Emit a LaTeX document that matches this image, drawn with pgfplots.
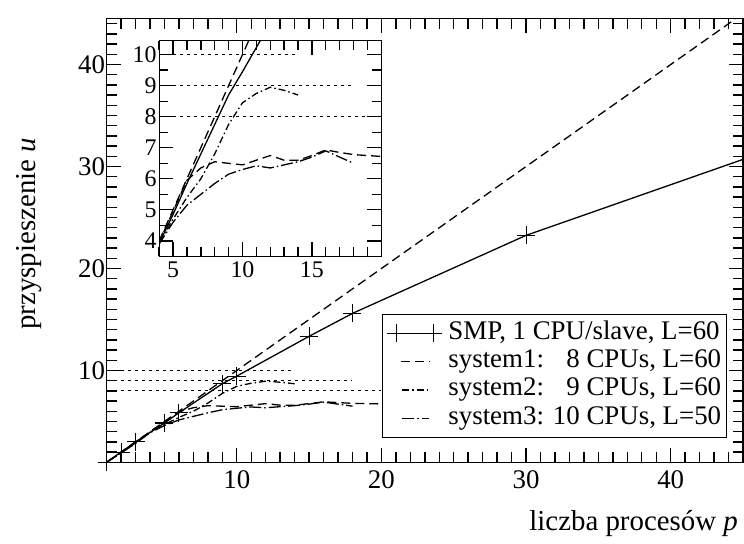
\documentclass[border=0pt]{standalone}
\usepackage{fontspec}
\setmainfont{Liberation Serif}
\usepackage{pgfplots}
\usepackage{pgfplotstable}
\pgfplotsset{compat=1.18}

% speedup measurements
\pgfplotstableread{
p u
1 1
2 2.0
3 3.0
5 4.85
6 5.85
9 8.7
10 9.45
15 13.35
18 15.6
30 23.25
45 30.7
}\smp
\pgfplotstableread{
p u
1 1
44.5 44.5
}\ideal
\pgfplotstableread{
p u
4 4
11.3 11.3
}\idealzoom
\pgfplotstableread{
p u
1 1
2 1.95
3 2.95
4 3.95
5 4.95
6 5.95
7 6.35
8 6.55
9 6.5
10 6.45
11 6.6
12 6.75
13 6.6
14 6.6
15 6.75
16 6.93
17 6.85
18 6.78
19 6.75
20 6.72
}\sysone
\pgfplotstableread{
p u
1 1
2 1.95
3 2.9
4 3.95
5 4.7
6 5.4
7 6.0
8 6.8
9 7.75
10 8.45
11 8.75
12 8.95
13 8.85
14 8.7
}\systwo
\pgfplotstableread{
p u
1 1
2 1.9
3 2.85
4 3.9
5 4.6
6 5.15
7 5.5
8 5.85
9 6.15
10 6.3
11 6.42
12 6.35
13 6.45
14 6.55
15 6.7
16 6.9
17 6.7
18 6.5
}\systhree

\pgfplotsset{
  smpstyle/.style={black, line width=1.3bp, solid},
  s1style/.style={black, line width=1.3bp, dash pattern=on 9bp off 5bp},
  s2style/.style={black, line width=1.3bp, dash pattern=on 7bp off 3bp on 1.5bp off 3bp},
  s3style/.style={black, line width=1.3bp, dash pattern=on 12bp off 3bp on 1.5bp off 3bp},
  limstyle/.style={black, line width=1.2bp, dash pattern=on 3bp off 4bp},
  boxframe/.style={
    scale only axis,
    tick align=inside,
    axis line style={line width=1.3bp},
  },
  shortsample/.style 2 args={legend image code/.code={\path (0bp,0bp) (44bp,0bp);
    \draw[##1] (#1,0bp) -- (#2,0bp);}},
  marksample/.style={legend image code/.code={\path (0bp,0bp) (44bp,0bp);
    \draw[##1] plot coordinates {(3bp,0bp) (40bp,0bp)};}},
}

\begin{document}
\begin{tikzpicture}
\useasboundingbox (-106.7bp,-81.3bp) rectangle (638bp,462.7bp);
\begin{axis}[
  boxframe, clip=false,
  at={(0,0)}, anchor=south west,
  width=637bp, height=444bp,
  xmin=1, xmax=45, ymin=1, ymax=44.5,
  % long labelled ticks every ten, short ticks every unit
  xtick={10,20,30,40}, ytick={10,20,30,40},
  major tick length=14bp,
  major tick style={draw=black, line width=1.2bp},
  extra x ticks={2,3,...,45}, extra y ticks={2,3,...,44},
  extra x tick labels={}, extra y tick labels={},
  extra tick style={major tick length=10bp,
    major tick style={draw=black, line width=1.4bp}},
  tick label style={font=\fontsize{27}{30}\selectfont},
  /pgf/number format/assume math mode=true,
  xticklabel style={yshift=-5bp},
  yticklabel style={xshift=2bp},
  xlabel={liczba procesów \textit{p}},
  ylabel={przyspieszenie \textit{u}},
  label style={font=\fontsize{29}{32}\selectfont},
  xlabel style={at={(axis description cs:0.9973,-0.1538)}, anchor=base east},
  ylabel style={at={(axis description cs:-0.111,0.515)}, anchor=base},
  legend cell align=left,
  legend style={at={(rel axis cs:0.9743,0.055)}, anchor=south east,
    draw=black, line width=1bp, inner xsep=5bp, inner ysep=5bp,
    font=\fontsize{27}{28}\selectfont, row sep=0pt,
    nodes={inner sep=0pt, text height=20bp, text depth=8.3bp},
    /tikz/every odd column/.append style={column sep=6bp}},
]
\addplot[smpstyle, mark=+, mark size=9bp, mark indices={1,...,10},
  mark options={solid, line width=1.1bp}, marksample]
  table[x=p, y=u] {\smp};
\addlegendentry{SMP, 1 CPU/slave, L=60}
\addplot[s1style, forget plot] table[x=p, y=u] {\ideal};
\addplot[s1style, shortsample={8bp}{37bp}] table[x=p, y=u] {\sysone};
\addlegendentry{system1: \phantom{1}8 CPUs, L=60}
\addplot[s2style, shortsample={9bp}{37bp}] table[x=p, y=u] {\systwo};
\addlegendentry{system2: \phantom{1}9 CPUs, L=60}
\addplot[s3style, shortsample={9bp}{36bp}] table[x=p, y=u] {\systhree};
\addlegendentry{system3: 10 CPUs, L=50}
% CPU-count limits
\addplot[limstyle, forget plot] coordinates {(1,10) (14,10)};
\addplot[limstyle, forget plot] coordinates {(1,9) (18,9)};
\addplot[limstyle, forget plot] coordinates {(1,8) (20,8)};
\end{axis}

% close-up of the small-p region
\begin{axis}[
  boxframe,
  at={(52.6bp,206bp)}, anchor=south west,
  width=222.4bp, height=216bp,
  xmin=4, xmax=20, ymin=3.5, ymax=10.45,
  xtick={5,10,15}, ytick={4,5,...,10},
  major tick length=14bp,
  major tick style={draw=black, line width=1.2bp},
  extra x ticks={4,5,...,20}, extra y ticks={3.5,4.5,...,10.5},
  extra x tick labels={}, extra y tick labels={},
  extra tick style={major tick length=9bp,
    major tick style={draw=black, line width=1.4bp}},
  axis background/.style={fill=white},
  tick label style={font=\fontsize{24}{26}\selectfont},
  /pgf/number format/assume math mode=true,
  xticklabel style={yshift=-2bp},
  yticklabel style={xshift=1bp},
]
\addplot[smpstyle] table[x=p, y=u] {\smp};
\addplot[s1style] table[x=p, y=u] {\idealzoom};
\addplot[s1style] table[x=p, y=u] {\sysone};
\addplot[s2style] table[x=p, y=u] {\systwo};
\addplot[s3style] table[x=p, y=u] {\systhree};
\addplot[limstyle] coordinates {(4,10) (14,10)};
\addplot[limstyle] coordinates {(4,9) (18,9)};
\addplot[limstyle] coordinates {(4,8) (20,8)};
\end{axis}
\end{tikzpicture}
\end{document}
